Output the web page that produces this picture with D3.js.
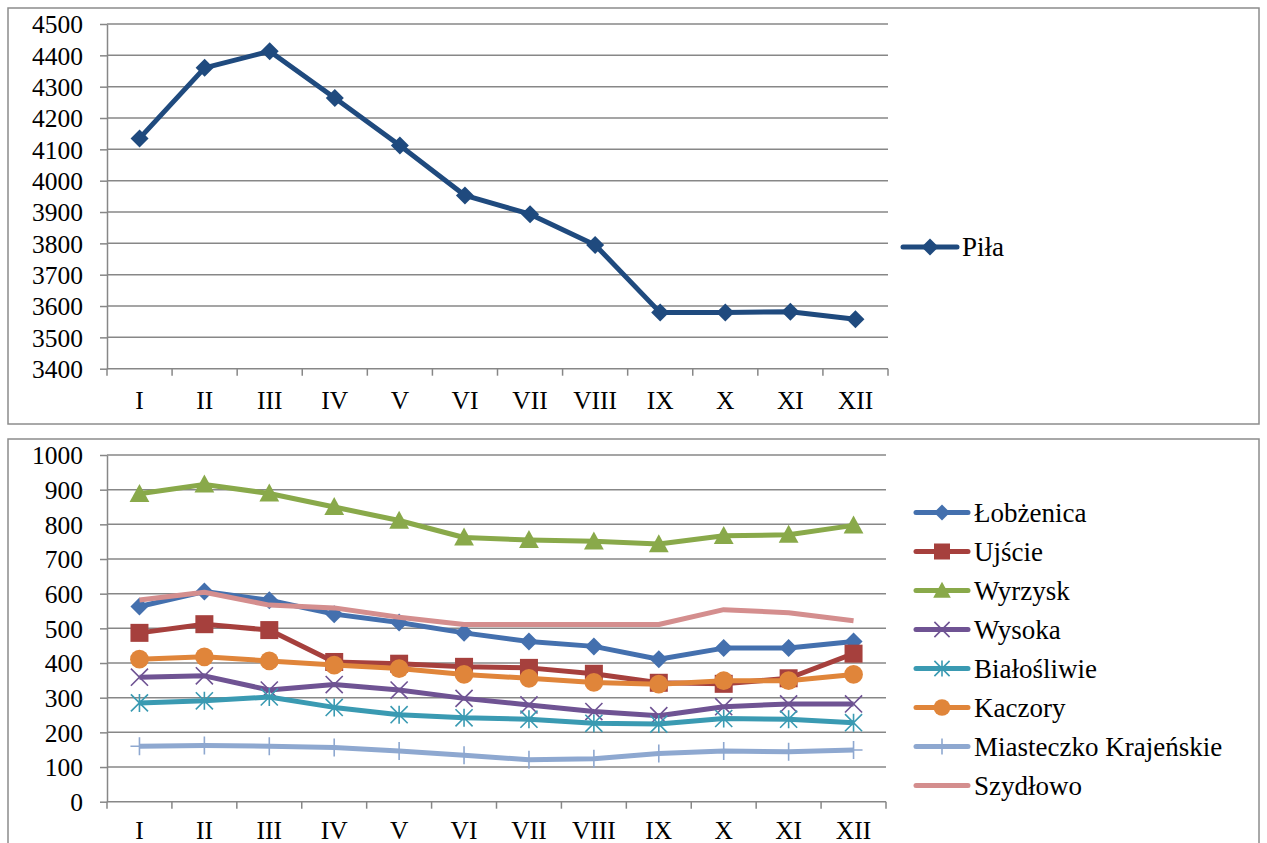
<!DOCTYPE html>
<html><head><meta charset="utf-8">
<script src="https://cdn.jsdelivr.net/npm/d3@7"></script>
<style>body{margin:0;background:#fff;} svg{display:block;}</style>
</head><body>
<script>
const months = ["I","II","III","IV","V","VI","VII","VIII","IX","X","XI","XII"];
const pilaValues = [4135,4360,4413,4264,4112,3953,3893,3795,3579,3579,3582,3558];
const topTicks = [3400,3500,3600,3700,3800,3900,4000,4100,4200,4300,4400,4500];
const bottomTicks = [0,100,200,300,400,500,600,700,800,900,1000];
const seriesNames = ["Łobżenica","Ujście","Wyrzysk","Wysoka","Białośliwie","Kaczory","Miasteczko Krajeńskie","Szydłowo"];
const lobzenica = [563,606,581,541,517,487,462,448,411,443,443,462];
const ujscie = [487,512,495,403,398,389,386,369,343,340,356,427];
const wyrzysk = [888,915,889,850,811,762,755,751,743,767,770,797];
const wysoka = [359,363,322,338,322,298,279,260,248,274,282,282];
const bialosliwie = [285,291,302,272,251,242,238,226,224,240,238,228];
const kaczory = [411,418,406,394,384,367,356,344,339,349,349,367];
const miasteczko = [160,162,160,156,146,134,121,124,139,146,144,149];
const szydlowo = [582,604,567,559,532,511,511,511,511,554,545,522];
const seriesData = [lobzenica,ujscie,wyrzysk,wysoka,bialosliwie,kaczory,miasteczko,szydlowo];
const seriesColors = ["#4470AE","#A6403D","#89A94A","#6F5393","#3A9AB2","#E0853A","#8EA8D0","#D48E8E"];
const seriesMarkers = ["diamond","square","triangle","x","asterisk","circle","plus","none"];

const W = 1267, H = 843;
const svg = d3.select("body").append("svg").attr("width", W).attr("height", H);
const FONT = "'Liberation Serif','Times New Roman',serif";
const GRID = "#878787";
const AXIS_FS = 25.5, LEG_FS = 27;

function drawMarker(g, type, x, y, color, s) {
  const r = s/2;
  if (type === "diamond") {
    g.append("path").attr("d", `M${x},${y-r}L${x+r},${y}L${x},${y+r}L${x-r},${y}Z`).attr("fill", color);
  } else if (type === "square") {
    const q = s*0.5;
    g.append("rect").attr("x", x - q).attr("y", y - q).attr("width", 2*q).attr("height", 2*q).attr("fill", color);
  } else if (type === "triangle") {
    const hw = s*0.55, h = s;
    g.append("path").attr("d", `M${x},${y-h*0.55}L${x+hw},${y+h*0.45}L${x-hw},${y+h*0.45}Z`).attr("fill", color);
  } else if (type === "circle") {
    g.append("circle").attr("cx", x).attr("cy", y).attr("r", s*0.52).attr("fill", color);
  } else if (type === "x") {
    const a = r*0.95;
    g.append("path").attr("d", `M${x-a},${y-a}L${x+a},${y+a}M${x-a},${y+a}L${x+a},${y-a}`).attr("stroke", color).attr("stroke-width", 1.6);
  } else if (type === "asterisk") {
    const a = r*0.95;
    g.append("path").attr("d", `M${x-a},${y-a}L${x+a},${y+a}M${x-a},${y+a}L${x+a},${y-a}M${x},${y-r}L${x},${y+r}`).attr("stroke", color).attr("stroke-width", 1.6);
  } else if (type === "plus") {
    g.append("path").attr("d", `M${x},${y-r}L${x},${y+r}M${x-r},${y}L${x+r},${y}`).attr("stroke", color).attr("stroke-width", 1.6);
  }
}

function drawPanel(opts) {
  const {box, plot, domain, ticks} = opts;
  svg.append("rect").attr("x", box.x).attr("y", box.y).attr("width", box.w).attr("height", box.h)
    .attr("fill", "#fff").attr("stroke", "#8c8c8c").attr("stroke-width", 1.5);
  const x = d3.scaleBand().domain(months).range([plot.x0, plot.x1]);
  const y = d3.scaleLinear().domain(domain).range([plot.y1, plot.y0]);
  const g = svg.append("g");
  g.selectAll("line.grid").data(ticks.slice(1)).enter().append("line")
    .attr("x1", plot.x0).attr("x2", plot.x1).attr("y1", d => y(d)).attr("y2", d => y(d))
    .attr("stroke", GRID).attr("stroke-width", 1.5);
  const ya = g.append("g").attr("transform", `translate(${plot.x0},0)`)
    .call(d3.axisLeft(y).tickValues(ticks).tickSize(7).tickSizeOuter(0).tickPadding(17).tickFormat(d3.format("d")));
  ya.select(".domain").attr("stroke", GRID).attr("stroke-width", 1.5);
  ya.selectAll(".tick line").attr("stroke", GRID).attr("stroke-width", 1.5);
  ya.selectAll("text").attr("font-family", FONT).attr("font-size", AXIS_FS).attr("fill", "#000").attr("dy", "0.34em");
  const xa = g.append("g").attr("transform", `translate(0,${plot.y1})`)
    .call(d3.axisBottom(x).tickSize(0).tickPadding(0));
  xa.select(".domain").remove();
  xa.selectAll("text").attr("font-family", FONT).attr("font-size", AXIS_FS).attr("fill", "#000").attr("y", opts.labelDy).attr("dy", 0);
  const bounds = months.map(m => x(m)).concat([plot.x1]);
  g.append("line").attr("x1", plot.x0).attr("x2", plot.x1).attr("y1", plot.y1).attr("y2", plot.y1).attr("stroke", GRID).attr("stroke-width", 1.5);
  g.selectAll("line.xt").data(bounds).enter().append("line")
    .attr("x1", d => d).attr("x2", d => d).attr("y1", plot.y1).attr("y2", plot.y1 + 7)
    .attr("stroke", GRID).attr("stroke-width", 1.5);
  return {x, y};
}

// Top panel
const topP = drawPanel({
  box: {x: 8, y: 8, w: 1251, h: 416},
  plot: {x0: 107, x1: 888, y0: 24, y1: 368.7},
  domain: [3400, 4500], ticks: topTicks, labelDy: 40
});
const pilaColor = "#1F4A7E";
const lineTop = d3.line().x((d, i) => topP.x(months[i]) + topP.x.bandwidth()/2).y(d => topP.y(d));
svg.append("path").attr("d", lineTop(pilaValues)).attr("fill", "none").attr("stroke", pilaColor)
  .attr("stroke-width", 5).attr("stroke-linejoin", "round");
const topMarks = svg.append("g");
pilaValues.forEach((v, i) => drawMarker(topMarks, "diamond", topP.x(months[i]) + topP.x.bandwidth()/2, topP.y(v), pilaColor, 18));
const lt = svg.append("g");
lt.append("line").attr("x1", 903).attr("x2", 957).attr("y1", 247).attr("y2", 247).attr("stroke", pilaColor).attr("stroke-width", 5).attr("stroke-linecap", "round");
drawMarker(lt, "diamond", 930, 247, pilaColor, 17);
lt.append("text").attr("x", 962).attr("y", 247).attr("dy", "0.34em").attr("font-family", FONT).attr("font-size", LEG_FS).text("Piła");

// Bottom panel
const botP = drawPanel({
  box: {x: 8, y: 439, w: 1251, h: 420},
  plot: {x0: 107, x1: 886, y0: 455, y1: 801.7},
  domain: [0, 1000], ticks: bottomTicks, labelDy: 37
});
const lineBot = d3.line().x((d, i) => botP.x(months[i]) + botP.x.bandwidth()/2).y(d => botP.y(d));
seriesData.forEach((vals, si) => {
  const g = svg.append("g");
  g.append("path").attr("d", lineBot(vals)).attr("fill", "none").attr("stroke", seriesColors[si])
    .attr("stroke-width", 5).attr("stroke-linejoin", "round");
  vals.forEach((v, i) => drawMarker(g, seriesMarkers[si], botP.x(months[i]) + botP.x.bandwidth()/2, botP.y(v), seriesColors[si], 18));
});
const lb = svg.append("g");
seriesNames.forEach((name, si) => {
  const yy = 512.5 + si * 39;
  lb.append("line").attr("x1", 916).attr("x2", 968).attr("y1", yy).attr("y2", yy).attr("stroke", seriesColors[si]).attr("stroke-width", 5).attr("stroke-linecap", "round");
  drawMarker(lb, seriesMarkers[si], 942, yy, seriesColors[si], 16);
  lb.append("text").attr("x", 974).attr("y", yy).attr("dy", "0.34em").attr("font-family", FONT).attr("font-size", LEG_FS).text(name);
});
</script>
</body></html>
